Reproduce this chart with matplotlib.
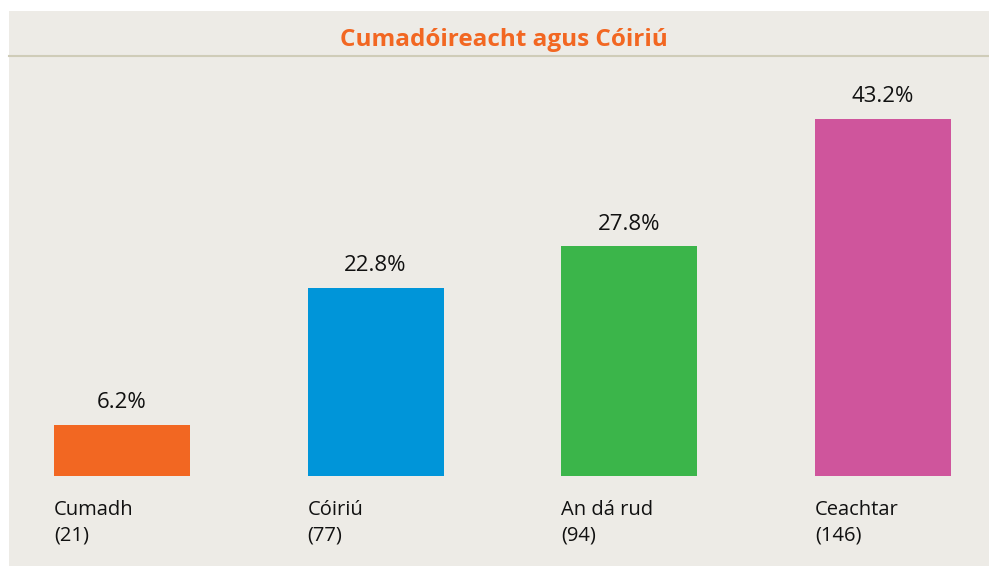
import matplotlib.pyplot as plt

# sonraí
categories = ["Cumadh", "Cóiriú", "An dá rud", "Ceachtar"]
counts = [21, 77, 94, 146]
percents = [6.2, 22.8, 27.8, 43.2]
colors = ["#F26722", "#0095D9", "#3BB54A", "#CF559C"]

plt.rcParams["font.family"] = ["Open Sans", "DejaVu Sans"]

W, H = 989, 566
fig = plt.figure(figsize=(W / 100, H / 100), dpi=100)
fig.patch.set_facecolor("white")

# painéal liath
x0, x1, y0, y1 = 9, 989, 11, 566
ax = fig.add_axes([x0 / W, 1 - y1 / H, (x1 - x0) / W, (y1 - y0) / H])
ax.set_facecolor("#EDEBE6")

step = 253.7
width = 136 / step
xs = list(range(len(categories)))
ax.bar(xs, percents, width=width, color=colors)

px_per = 357 / 43.2
ax.set_xlim(-0.445, (x1 - x0) / step - 0.445)
ax.set_ylim(-(y1 - 476) / px_per, (476 - y0) / px_per)

for x, p in zip(xs, percents):
    ax.annotate(f"{p}%", (x, p), xytext=(0, 16), textcoords="offset points",
                ha="center", va="center", fontsize=16, color="#111111")

for x, c, n in zip(xs, categories, counts):
    ax.annotate(c, (x - width / 2, 0), xytext=(0, -24.5), textcoords="offset points",
                ha="left", va="center", fontsize=14.5, color="#111111")
    ax.annotate(f"({n})", (x - width / 2, 0), xytext=(0, -42.5), textcoords="offset points",
                ha="left", va="center", fontsize=14.5, color="#111111")

# teideal agus líne
ly = (y1 - 56) / (y1 - y0)
ax.plot([0, 1], [ly, ly], transform=ax.transAxes, color="#CFCCB8", lw=1.5, clip_on=False)
ax.text(0.505, (y1 - 40) / (y1 - y0), "Cumadóireacht agus Cóiriú", transform=ax.transAxes,
        ha="center", va="center", fontsize=17.5, fontweight="bold", color="#F26722")

for s in ax.spines.values():
    s.set_visible(False)
ax.set_xticks([])
ax.set_yticks([])

fig.savefig("out.png", dpi=100)
